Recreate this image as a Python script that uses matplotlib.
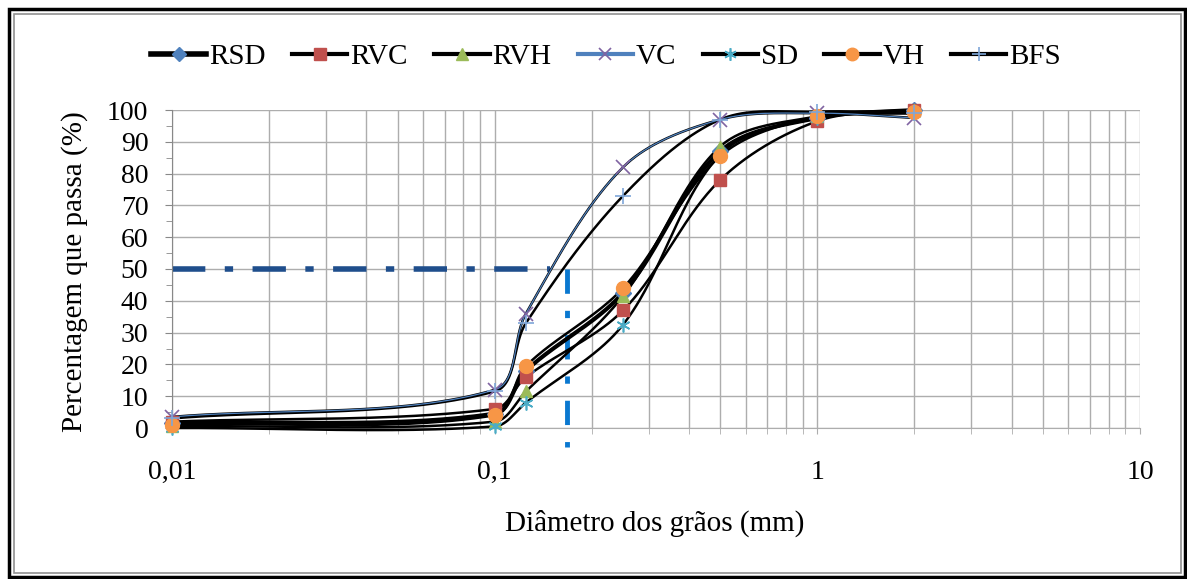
import numpy as np
import matplotlib
matplotlib.use('Agg')
import matplotlib.pyplot as plt
from matplotlib.lines import Line2D
from matplotlib.patches import Rectangle

plt.rcParams['font.family'] = ['Liberation Serif', 'DejaVu Serif']

# diametro das peneiras (mm)
diam = [0.01, 0.1, 0.125, 0.25, 0.5, 1, 2]

# percentagem que passa
rsd = [1.5, 4.5, 18, 42.5, 87, 97.5, 100]
rvc = [2, 6, 16, 37, 78, 96.5, 100]
rvh = [0.5, 2, 11.5, 41.5, 88.5, 98, 100]
vc = [3.5, 12, 36, 82, 97, 99, 97.5]
sd = [0, 0.5, 8, 32.5, 86, 97.5, 99]
vh = [1, 4, 19.5, 44, 85.5, 98, 99.5]
bfs = [3, 11.5, 33, 73, 97, 99.5, 99]

names = ['RSD', 'RVC', 'RVH', 'VC', 'SD', 'VH', 'BFS']
series = [rsd, rvc, rvh, vc, sd, vh, bfs]

# D50 guia
d50_y = 50
d50_h_end = 0.148
d50_x = 0.167

xtick_vals = [0.01, 0.1, 1, 10]
xtick_labels = ['0,01', '0,1', '1', '10']

# estilo de cada serie (marcador, cor, tamanho, largura da linha)
styles = {
    'RSD': dict(marker='D', mfc='#4F81BD', mec='#4F81BD', ms=8, lw=3.0),
    'RVC': dict(marker='s', mfc='#C0504D', mec='#C0504D', ms=9, lw=1.8),
    'RVH': dict(marker='^', mfc='#9BBB59', mec='#9BBB59', ms=9, lw=1.8),
    'VC': dict(marker='x', mfc='#8064A2', mec='#8064A2', ms=10, lw=1.8, mew=1.2),
    'SD': dict(marker=(6, 2, 0), mfc='#4BACC6', mec='#4BACC6', ms=10, lw=1.8, mew=1.2),
    'VH': dict(marker='o', mfc='#F79646', mec='#F79646', ms=10, lw=1.8),
    'BFS': dict(marker='+', mfc='#7EA6D8', mec='#7EA6D8', ms=11, lw=1.8, mew=1.2),
}

SX = 322.7  # px por decada
SY = 3.18   # px por %


def smooth(xs, ys, n=60):
    # linha suavizada tipo Excel (bezier) no espaco da tela
    P = np.column_stack([np.log10(xs) * SX, np.asarray(ys, float) * SY])
    m = len(P)
    d = np.hypot(*(P[1:] - P[:-1]).T)
    T = np.zeros_like(P)
    for i in range(m):
        if i == 0:
            T[i] = (P[1] - P[0]) / d[0]
        elif i == m - 1:
            T[i] = (P[-1] - P[-2]) / d[-1]
        else:
            T[i] = (P[i + 1] - P[i - 1]) / (d[i - 1] + d[i])
    out = []
    t = np.linspace(0, 1, n)[:, None]
    for i in range(m - 1):
        p1, p2 = P[i], P[i + 1]
        c1 = p1 + T[i] * d[i] / 3
        c2 = p2 - T[i + 1] * d[i] / 3
        seg = (1 - t) ** 3 * p1 + 3 * (1 - t) ** 2 * t * c1 + 3 * (1 - t) * t ** 2 * c2 + t ** 3 * p2
        out.append(seg if i == 0 else seg[1:])
    out = np.vstack(out)
    return 10 ** (out[:, 0] / SX), out[:, 1] / SY


W, H = 1187, 579
fig = plt.figure(figsize=(W / 100, H / 100), dpi=100)
ax = fig.add_axes([172 / W, 1 - 428 / H, (1140 - 172) / W, (428 - 110) / H])

ax.set_xscale('log')
ax.set_xlim(0.01, 10)
ax.set_ylim(0, 100)

grid_c = '#ADADAD'
ax.grid(True, which='major', axis='both', color=grid_c, lw=1.0)
ax.grid(True, which='minor', axis='x', color=grid_c, lw=1.0)
ax.set_axisbelow(True)
for s in ['top', 'right']:
    ax.spines[s].set_visible(False)
ax.spines['left'].set_color('#888888')
ax.spines['bottom'].set_color(grid_c)

ax.set_yticks(np.arange(0, 101, 10))
ax.set_yticks(np.arange(5, 100, 10), minor=True)
ax.set_xticks(xtick_vals)
ax.set_xticklabels(xtick_labels)
ax.xaxis.set_minor_formatter(plt.NullFormatter())
ax.tick_params(axis='y', which='major', length=5, color='#888888', labelsize=20, pad=12)
ax.tick_params(axis='y', which='minor', length=4, color='#888888')
ax.tick_params(axis='x', which='both', length=4, color=grid_c, labelsize=20, pad=19)

# linhas D50
ax.plot([0.01, d50_h_end], [d50_y, d50_y], color='#1F4E8C', lw=4,
        dashes=(6, 3.5, 1.5, 3.5), dash_capstyle='butt', zorder=2)
ax.plot([d50_x, d50_x], [d50_y, -6], color='#0A78D0', lw=3.5,
        dashes=(5, 3.5, 1.5, 3.5), dash_capstyle='butt', zorder=2, clip_on=False)

# linhas suavizadas
for name, ys in zip(names, series):
    sx, sy = smooth(diam, ys)
    ax.plot(sx, sy, color='black', lw=styles[name]['lw'], zorder=3, clip_on=False)
    if name == 'VC':
        ax.plot(sx, sy, color='#4F81BD', lw=0.9, zorder=3.1, clip_on=False)

# marcadores
for k, (name, ys) in enumerate(zip(names, series)):
    st = styles[name]
    ax.plot(diam, ys, ls='none', marker=st['marker'], mfc=st['mfc'], mec=st['mec'],
            ms=st['ms'], mew=st.get('mew', 1.0), zorder=4 + k * 0.1, clip_on=False)

# legenda
handles = []
for name in names:
    st = styles[name]
    lc = '#4F81BD' if name == 'VC' else 'black'
    lw = 4 if name == 'RSD' else 3
    handles.append(Line2D([], [], color=lc, lw=lw, marker=st['marker'], mfc=st['mfc'],
                          mec=st['mec'], ms=st['ms'] * 0.9, mew=st.get('mew', 1.0)))
fig.legend(handles, names, ncol=7, loc='center', bbox_to_anchor=(606 / W, 1 - 57 / H),
           frameon=False, fontsize=21, handlelength=1.9, handletextpad=0.1,
           columnspacing=0.9, borderpad=0)

fig.text(75 / W, 1 - 272 / H, 'Percentagem que passa (%)', rotation=90,
         ha='center', va='center', fontsize=21)
fig.text(655 / W, 1 - 523 / H, 'Diâmetro dos grãos (mm)', ha='center', va='center', fontsize=21)

# moldura
fig.patches.append(Rectangle((9 / W, 2 / H), (1185 - 9) / W, (570 - 2) / H + 0.0,
                             transform=fig.transFigure, fill=False, ec='black', lw=2.5))
fig.patches.append(Rectangle((14 / W, 6 / H), (1181 - 14) / W, (565 - 6) / H,
                             transform=fig.transFigure, fill=False, ec='#909090', lw=1.2))

fig.savefig('out.png', dpi=100)
